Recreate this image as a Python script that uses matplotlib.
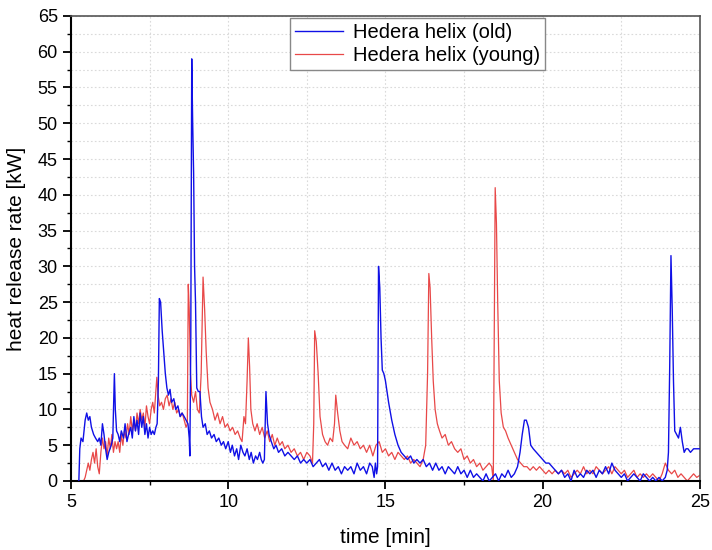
import matplotlib.pyplot as plt
from matplotlib.ticker import MultipleLocator

# Hedera helix (old) - blue
t_old = [5.25, 5.28, 5.32, 5.38, 5.45, 5.5, 5.55, 5.6, 5.65, 5.72, 5.78, 5.85, 5.9, 5.95,
         6.0, 6.05, 6.1, 6.15, 6.2, 6.28, 6.33, 6.38, 6.41, 6.45, 6.5, 6.55, 6.6, 6.67,
         6.72, 6.78, 6.83, 6.9, 6.95, 7.0, 7.05, 7.1, 7.15, 7.2, 7.25, 7.3, 7.35, 7.4,
         7.45, 7.5, 7.55, 7.6, 7.65, 7.7, 7.74, 7.78, 7.81, 7.85, 7.9, 7.95, 8.0, 8.05,
         8.1, 8.15, 8.2, 8.27, 8.33, 8.4, 8.47, 8.53, 8.6, 8.66, 8.72, 8.76, 8.78, 8.81,
         8.84, 8.87, 8.9, 8.93, 8.96, 9.0, 9.05, 9.1, 9.15, 9.2, 9.27, 9.33, 9.4, 9.47,
         9.55, 9.62, 9.7, 9.78, 9.85, 9.92, 10.0, 10.07, 10.13, 10.2, 10.27, 10.33, 10.4,
         10.47, 10.53, 10.6, 10.67, 10.73, 10.8, 10.87, 10.93, 11.0, 11.05, 11.1, 11.15,
         11.2, 11.25, 11.3, 11.37, 11.45, 11.52, 11.6, 11.7, 11.8, 11.9, 12.0, 12.1,
         12.2, 12.3, 12.4, 12.5, 12.6, 12.7, 12.8, 12.9, 13.0, 13.1, 13.2, 13.3, 13.4,
         13.5, 13.6, 13.7, 13.8, 13.9, 14.0, 14.1, 14.2, 14.3, 14.4, 14.5, 14.58, 14.64,
         14.68, 14.72, 14.75, 14.78, 14.82, 14.86, 14.9, 14.95, 15.0, 15.05, 15.1, 15.2,
         15.3, 15.4, 15.5, 15.6, 15.7, 15.8, 15.9, 16.0, 16.1, 16.2, 16.3, 16.4, 16.5,
         16.6, 16.7, 16.8, 16.9, 17.0, 17.1, 17.2, 17.3, 17.4, 17.5, 17.6, 17.7, 17.8,
         17.9, 18.0, 18.1, 18.2, 18.3, 18.4, 18.5, 18.6, 18.7, 18.8, 18.9, 19.0, 19.1,
         19.2, 19.28, 19.35, 19.42, 19.48, 19.55, 19.62, 19.7, 19.8, 19.9, 20.0, 20.1,
         20.2, 20.3, 20.4, 20.5, 20.6, 20.7, 20.8, 20.9, 21.0, 21.1, 21.2, 21.3, 21.4,
         21.5, 21.6, 21.7, 21.8, 21.9, 22.0, 22.1, 22.2, 22.3, 22.4, 22.5, 22.6, 22.7,
         22.8, 22.9, 23.0, 23.1, 23.2, 23.3, 23.4, 23.5, 23.6, 23.7, 23.8, 23.9, 23.96,
         24.0, 24.04, 24.08, 24.12, 24.16, 24.2, 24.26, 24.32, 24.38, 24.44, 24.5, 24.56,
         24.62, 24.7, 24.8, 24.9, 25.0]
v_old = [0.0, 4.5, 6.0, 5.5, 8.5, 9.5, 8.5, 9.0, 7.5, 6.5, 6.0, 5.5, 6.0, 5.0,
         8.0, 6.5, 4.5, 3.0, 4.0, 5.0, 6.0, 15.0, 10.0, 7.0, 6.5, 5.5, 7.0, 6.0,
         8.0, 5.5, 6.5, 7.5, 6.0, 9.0, 7.0, 8.5, 6.5, 9.5, 7.5, 9.0, 6.5, 8.0,
         6.0, 7.5, 6.5, 7.0, 6.5, 7.5, 8.0, 14.0, 25.5, 25.0, 21.0, 18.0, 15.0, 13.0,
         12.0, 12.8, 11.0, 11.5, 10.0, 10.5, 9.0, 9.5, 9.0, 8.5, 8.0, 6.0, 3.5, 20.0,
         59.0, 50.0, 43.0, 30.0, 25.0, 13.0, 12.5, 12.5, 9.0, 7.5, 8.0, 6.5, 7.0, 6.0,
         6.5, 5.5, 6.0, 5.0, 5.5, 4.5, 5.5, 4.0, 5.0, 3.5, 4.5, 3.0, 5.0,
         4.0, 3.5, 4.5, 3.0, 4.0, 2.5, 3.5, 3.0, 4.0, 3.0, 2.5, 3.0,
         12.5, 8.0, 6.5, 5.5, 4.5, 5.0, 4.0, 4.5, 3.5, 4.0, 3.5, 3.0,
         3.5, 2.5, 3.0, 2.5, 3.0, 2.0, 2.5, 3.0, 2.0, 2.5, 1.5, 2.5, 1.5,
         2.0, 1.0, 2.0, 1.5, 2.0, 1.0, 2.5, 1.5, 2.0, 1.0, 2.5, 2.0, 0.5,
         2.5, 1.0, 2.0, 30.0, 27.0, 20.0, 15.5, 15.0, 14.0, 12.5, 11.0, 8.5,
         6.5, 5.0, 4.0, 3.5, 3.0, 3.5, 2.5, 3.0, 2.5, 3.0, 2.0, 2.5, 1.5,
         2.5, 1.5, 2.0, 1.0, 2.0, 1.5, 1.0, 2.0, 1.0, 1.5, 0.5, 1.5, 0.5,
         1.0, 0.5, 0.0, 1.0, 0.0, 0.5, 1.0, 0.0, 1.0, 0.5, 1.5, 0.5, 1.0,
         2.0, 4.0, 6.5, 8.5, 8.5, 7.5, 5.0, 4.5, 4.0, 3.5, 3.0, 2.5,
         2.5, 2.0, 1.5, 1.0, 1.5, 0.5, 1.0, 0.0, 1.5, 0.5, 1.0, 0.5, 1.5,
         1.0, 1.5, 0.5, 1.5, 1.0, 2.0, 1.0, 2.5, 1.5, 1.0, 0.5, 1.0, 0.0,
         0.5, 1.0, 0.5, 0.0, 1.0, 0.5, 0.0, 0.5, 0.0, 0.5, 0.0, 0.5, 1.5,
         4.0, 16.0, 31.5, 24.0, 14.0, 7.0, 6.5, 6.0, 7.5, 5.5, 4.0, 4.5,
         4.5, 4.0, 4.5, 4.5, 4.5]

# Hedera helix (young) - red
t_young = [5.4, 5.45, 5.5, 5.55, 5.6, 5.65, 5.7, 5.75, 5.8, 5.85, 5.9, 5.95, 6.0, 6.05,
           6.1, 6.15, 6.2, 6.25, 6.3, 6.35, 6.4, 6.45, 6.5, 6.55, 6.6, 6.65, 6.7, 6.75,
           6.8, 6.85, 6.9, 6.95, 7.0, 7.05, 7.1, 7.15, 7.2, 7.25, 7.3, 7.35, 7.4, 7.45,
           7.5, 7.55, 7.6, 7.65, 7.7, 7.73, 7.77, 7.82, 7.88, 7.94, 8.0, 8.06, 8.12, 8.18,
           8.24, 8.3, 8.36, 8.42, 8.48, 8.54, 8.6, 8.66, 8.7, 8.73, 8.76, 8.8, 8.84, 8.9,
           8.96, 9.02, 9.08, 9.14, 9.2, 9.25, 9.3, 9.36, 9.42, 9.5, 9.58, 9.66, 9.74, 9.82,
           9.9, 9.98, 10.06, 10.14, 10.22, 10.3, 10.38, 10.44, 10.5, 10.55, 10.6, 10.64,
           10.68, 10.72, 10.78, 10.85, 10.92, 11.0, 11.08, 11.16, 11.24, 11.32, 11.4,
           11.48, 11.56, 11.64, 11.72, 11.8, 11.9, 12.0, 12.1, 12.2, 12.3, 12.4, 12.5,
           12.6, 12.68, 12.72, 12.75, 12.8, 12.86, 12.92, 13.0, 13.08, 13.16, 13.24,
           13.32, 13.38, 13.42, 13.48, 13.55, 13.62, 13.7, 13.8, 13.9, 14.0, 14.1, 14.2,
           14.3, 14.4, 14.5, 14.6, 14.7, 14.8, 14.9, 15.0, 15.1, 15.2, 15.3, 15.4, 15.5,
           15.6, 15.7, 15.8, 15.9, 16.0, 16.1, 16.2, 16.28, 16.34, 16.38, 16.42, 16.47,
           16.52, 16.58, 16.65, 16.72, 16.8, 16.9, 17.0, 17.1, 17.2, 17.3, 17.4, 17.5,
           17.6, 17.7, 17.8, 17.9, 18.0, 18.1, 18.2, 18.3, 18.38, 18.43, 18.46, 18.49,
           18.53, 18.57, 18.62, 18.68, 18.75, 18.82, 18.9, 19.0, 19.1, 19.2, 19.3, 19.4,
           19.5, 19.6, 19.7, 19.8, 19.9, 20.0, 20.1, 20.2, 20.3, 20.4, 20.5, 20.6, 20.7,
           20.8, 20.9, 21.0, 21.1, 21.2, 21.3, 21.4, 21.5, 21.6, 21.7, 21.8, 21.9, 22.0,
           22.1, 22.2, 22.3, 22.4, 22.5, 22.6, 22.7, 22.8, 22.9, 23.0, 23.1, 23.2, 23.3,
           23.4, 23.5, 23.6, 23.7, 23.8, 23.9, 24.0, 24.1, 24.2, 24.3, 24.4, 24.5, 24.6,
           24.7, 24.8, 24.9, 25.0]
v_young = [0.0, 0.5, 1.5, 2.5, 1.5, 3.0, 4.0, 2.5, 4.5, 2.0, 1.0, 4.0, 6.0, 4.5,
           5.5, 3.5, 6.0, 4.5, 6.5, 4.0, 5.5, 4.5, 5.5, 4.0, 6.5, 5.0, 7.0, 6.0,
           8.0, 6.5, 9.0, 7.0, 8.5, 7.0, 9.5, 8.0, 10.0, 8.5, 9.5, 7.5, 10.5, 9.0,
           8.0, 10.0, 11.0, 9.5, 12.5, 14.5, 12.0, 10.5, 11.0, 10.0, 11.5, 12.0, 10.5, 11.5,
           10.0, 11.0, 9.5, 10.0, 9.0, 9.5, 8.5, 7.5, 8.0, 27.5, 24.0, 15.0, 12.0, 11.0,
           12.5, 10.0, 9.5, 15.0, 28.5, 24.0, 18.0, 13.0, 11.0, 10.0, 8.5, 9.5, 8.0, 9.0,
           7.5, 8.0, 7.0, 7.5, 6.5, 7.0, 6.0, 5.5, 9.0, 8.0, 14.0, 20.0,
           16.0, 10.0, 8.0, 7.0, 8.0, 6.5, 7.5, 6.0, 7.0, 5.5, 6.5,
           5.0, 6.0, 5.0, 5.5, 4.5, 5.0, 4.0, 4.5, 3.5, 4.0, 3.0, 4.0,
           3.5, 2.5, 8.0, 21.0, 19.5, 15.0, 9.0, 6.5, 5.5, 5.0, 6.0,
           5.5, 8.0, 12.0, 9.5, 7.0, 5.5, 5.0, 4.5, 6.0, 5.0, 5.5, 4.5,
           5.0, 4.0, 5.0, 3.5, 5.0, 5.5, 4.0, 4.5, 3.5, 4.0, 3.0, 4.0, 3.5,
           3.0, 3.5, 2.5, 3.0, 2.5, 2.0, 3.0, 5.0, 15.0, 29.0, 27.0, 20.0,
           14.0, 10.0, 8.0, 7.0, 6.0, 6.5, 5.0, 5.5, 4.5, 4.0, 4.5, 3.0,
           3.5, 2.5, 3.0, 2.0, 2.5, 1.5, 2.0, 2.5, 2.0, 0.0, 20.0, 41.0,
           36.0, 25.0, 14.0, 9.5, 7.5, 7.0, 6.0, 5.0, 4.0, 3.0, 2.5, 2.0,
           2.0, 1.5, 2.0, 1.5, 2.0, 1.5, 1.0, 1.5, 1.0, 1.5, 1.0, 1.5, 1.0,
           1.5, 0.5, 1.0, 1.5, 1.0, 2.0, 1.0, 1.5, 1.0, 2.0, 1.5, 1.0, 1.5,
           2.0, 1.0, 2.0, 1.5, 1.0, 1.5, 0.5, 1.0, 1.5, 0.5, 1.0, 0.5, 1.0,
           0.5, 1.0, 0.5, 0.0, 1.0, 2.5, 1.5, 1.0, 1.5, 0.5, 1.0, 0.5, 0.0,
           0.5, 1.0, 0.5, 0.8]

plt.rcParams['font.family'] = ['Liberation Sans', 'DejaVu Sans']

fig = plt.figure(figsize=(7.12, 5.5), dpi=100)
ax = fig.add_axes([0.0997, 0.1255, 0.8833, 0.8455])

ax.plot(t_old, v_old, color='#1010e6', lw=1.0, label='Hedera helix (old)', zorder=3)
ax.plot(t_young, v_young, color='#e84848', lw=0.9, label='Hedera helix (young)', zorder=2)

ax.set_xlim(5, 25)
ax.set_ylim(0, 65)
ax.xaxis.set_major_locator(MultipleLocator(5))
ax.xaxis.set_minor_locator(MultipleLocator(2.5))
ax.yaxis.set_major_locator(MultipleLocator(5))
ax.yaxis.set_minor_locator(MultipleLocator(2.5))
ax.grid(which='both', color='#dadada', linestyle=(0, (1.5, 2)), lw=0.8)
ax.set_axisbelow(True)

ax.tick_params(which='major', direction='out', length=6, width=1.3, labelsize=13)
ax.tick_params(which='minor', direction='out', length=3, width=1.0)
ax.tick_params(top=False, right=False)

for s in ['left', 'bottom']:
    ax.spines[s].set_linewidth(1.5)
    ax.spines[s].set_color('black')
for s in ['top', 'right']:
    ax.spines[s].set_linewidth(1.2)
    ax.spines[s].set_color('#555555')

ax.set_xlabel('time [min]', fontsize=15, labelpad=12)
ax.set_ylabel('heat release rate [kW]', fontsize=15, labelpad=8)

leg = ax.legend(loc='upper left', bbox_to_anchor=(0.348, 0.996), fontsize=14.5,
                fancybox=False, edgecolor='#888888', framealpha=1,
                borderaxespad=0, handlelength=2.4, handletextpad=0.5,
                borderpad=0.25, labelspacing=0.2)
leg.get_frame().set_linewidth(1.0)

fig.savefig('out.png', dpi=100)
